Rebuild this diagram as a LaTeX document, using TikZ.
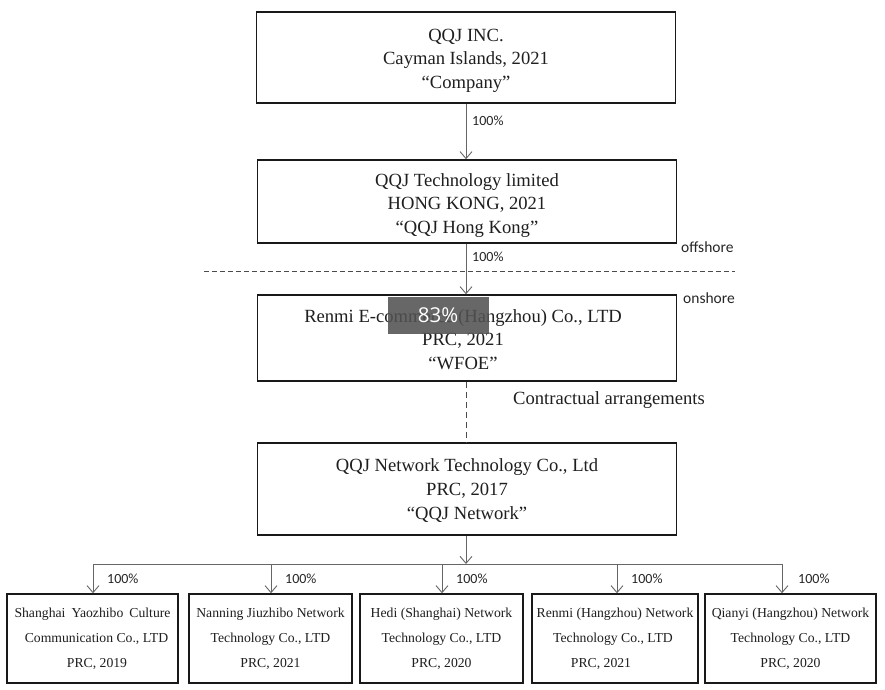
\documentclass[tikz,border=0pt]{standalone}
\usepackage{fontspec}
\setmainfont{Liberation Serif}
\newfontfamily\lblfont{Carlito}
\newfontfamily\ovlfont{Open Sans}
\usetikzlibrary{arrows.meta}
\begin{document}
\begin{tikzpicture}[x=1pt,y=-1pt,
  bigbox/.style={draw=black!90,line width=1.5pt,minimum width=419pt,inner sep=0pt},
  bigtext/.style={align=center,font=\fontsize{18.6}{23.6}\selectfont,text=black!88,inner sep=0pt},
  smallbox/.style={draw=black!90,line width=1.5pt,minimum height=89pt,align=center,
    font=\fontsize{13.7}{25}\selectfont,text=black!88,inner sep=0pt},
  arr/.style={draw=black!60,line width=0.9pt,-{Straight Barb[length=7pt,width=12pt,line width=0.9pt]}},
  conn/.style={draw=black!60,line width=0.9pt},
  pct/.style={font=\lblfont\fontsize{14}{15}\selectfont,text=black!85,anchor=west,inner sep=0pt},
  side/.style={font=\lblfont\fontsize{15.5}{17}\selectfont,text=black!85,anchor=west,inner sep=0pt},
  dash line/.style={draw=black!70,line width=1pt,dash pattern=on 5pt off 3pt}
]
\useasboundingbox[fill=white] (0,0) rectangle (885,689);

% main boxes
\node[bigbox,minimum height=91pt] (co) at (466,57.5) {};
\node[bigtext] (cot) at (466,60.5) {QQJ INC.\\Cayman Islands, 2021\\``Company''};
\node[bigbox,minimum height=83pt] (hk) at (467,201.5) {};
\node[bigtext] (hkt) at (467,205.5) {QQJ Technology limited\\HONG KONG, 2021\\``QQJ Hong Kong''};
\node[bigbox,minimum height=86pt] (wf) at (467,338) {};
\node[bigtext] (wft) at (463,339.5) {Renmi E-commerce (Hangzhou) Co., LTD\\PRC, 2021\\``WFOE''};
\node[bigbox,minimum height=92pt] (nw) at (467,489) {};
\node[bigtext] (nwt) at (467,490.5) {QQJ Network Technology Co., Ltd\\PRC, 2017\\``QQJ Network''};

% bottom boxes
\node[smallbox,minimum width=171pt] (s1) at (92.5,638.5) {\makebox[156pt][s]{Shanghai Yaozhibo Culture}\\\hspace*{8pt}Communication Co., LTD\\\hspace*{9pt}PRC, 2019};
\node[smallbox,minimum width=163pt] (s2) at (270.5,638.5) {Nanning Jiuzhibo Network\\Technology Co., LTD\\PRC, 2021};
\node[smallbox,minimum width=163pt] (s3) at (441.5,638.5) {Hedi (Shanghai) Network\\Technology Co., LTD\\PRC, 2020};
\node[smallbox,minimum width=166pt] (s4) at (615,638.5) {Renmi (Hangzhou) Network\\\hspace*{-4pt}Technology Co., LTD\\\hspace*{-28pt}PRC, 2021};
\node[smallbox,minimum width=171pt] (s5) at (790.5,638.5) {Qianyi (Hangzhou) Network\\Technology Co., LTD\\PRC, 2020};

% connectors
\coordinate (a1) at (466,0);
\draw[arr] (a1 |- co.south) -- (a1 |- hk.north);
\draw[arr] (a1 |- hk.south) -- (a1 |- wf.north);
\draw[dash line,dash pattern=on 6pt off 4pt] (a1 |- wf.south) -- (a1 |- nw.north);

\coordinate (bus) at (466,564);
\coordinate (busL) at (93,564);
\coordinate (busR) at (782,564);
\coordinate (d2) at (271,564);
\coordinate (d3) at (442,564);
\coordinate (d4) at (617,564);
\draw[arr] (a1 |- nw.south) -- (bus);
\draw[conn] (busL) -- (busR);
\draw[arr] (busL) -- (busL |- s1.north);
\draw[arr] (d2) -- (d2 |- s2.north);
\draw[arr] (d3) -- (d3 |- s3.north);
\draw[arr] (d4) -- (d4 |- s4.north);
\draw[arr] (busR) -- (busR |- s5.north);

% labels
\node[pct] (p1) at (472,121) {100\%};
\node[pct] (p2) at (472,257) {100\%};
\node[pct] (q1) at (107,579) {100\%};
\node[pct] (q2) at (285,579) {100\%};
\node[pct] (q3) at (456,579) {100\%};
\node[pct] (q4) at (631,579) {100\%};
\node[pct] (q5) at (798,579) {100\%};

\node[side] (off) at (681,247) {offshore};
\node[side] (on) at (683,298) {onshore};
\coordinate (dl) at (204,271);
\coordinate (dr) at (735,271);
\draw[dash line] (dl) -- (dr);

\node[anchor=west,inner sep=0pt,font=\fontsize{18.6}{22}\selectfont,text=black!88] (ca) at (513,400) {Contractual arrangements};

% overlay
\node[fill=black!68,fill opacity=0.88,text opacity=1,minimum width=101pt,minimum height=37pt,inner sep=0pt,text=white,
  font=\ovlfont\fontsize{20.5}{22}\selectfont] (ov) at (438,315.5) {83\%};
\end{tikzpicture}
\end{document}
